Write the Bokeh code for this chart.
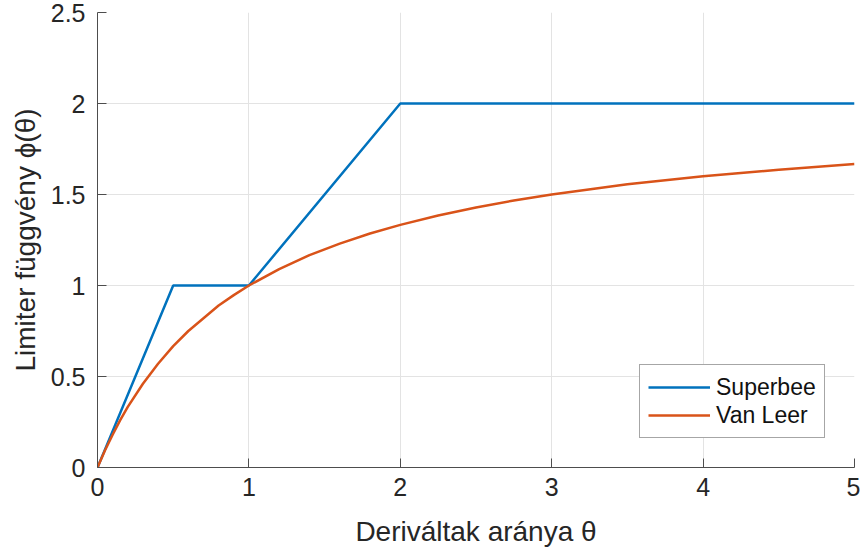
from bokeh.plotting import figure
from bokeh.models import Range1d, FixedTicker, Legend, LegendItem
from bokeh.embed import file_html
from bokeh.resources import INLINE

# Superbee limiter
superbee_theta = [0, 0.5, 1.0, 2.0, 5.0]
superbee_phi = [0, 1.0, 1.0, 2.0, 2.0]

# Van Leer limiter
vanleer_theta = [0, 0.05, 0.1, 0.15, 0.2, 0.3, 0.4, 0.5, 0.6, 0.7, 0.8, 0.9, 1.0, 1.2, 1.4, 1.6, 1.8,
                 2.0, 2.25, 2.5, 2.75, 3.0, 3.5, 4.0, 4.5, 5.0]
vanleer_phi = [0, 0.095, 0.18, 0.26, 0.333, 0.46, 0.57, 0.667, 0.75, 0.82, 0.89, 0.947, 1.0, 1.09, 1.167,
               1.23, 1.286, 1.333, 1.385, 1.429, 1.467, 1.5, 1.556, 1.6, 1.636, 1.667]

x_ticks = [0, 1, 2, 3, 4, 5]
y_ticks = [0, 0.5, 1, 1.5, 2, 2.5]
y_tick_labels = ["0", "0.5", "1", "1.5", "2", "2.5"]

FONT = "Liberation Sans"
TXT = "#262626"

p = figure(width=860, height=552, output_backend="svg", toolbar_location=None,
           x_range=Range1d(0, 5), y_range=Range1d(0, 2.5),
           min_border_left=97, min_border_right=6, min_border_top=12, min_border_bottom=85)
p.outline_line_color = None
p.background_fill_color = "white"

r1 = p.line(superbee_theta, superbee_phi, line_color="#0072BD", line_width=2.5)
r2 = p.line(vanleer_theta, vanleer_phi, line_color="#D95319", line_width=2.5)

for ax in (p.xaxis[0], p.yaxis[0]):
    ax.axis_line_color = "#4d4d4d"
    ax.major_tick_line_color = "#4d4d4d"
    ax.major_tick_in = 9
    ax.major_tick_out = 0
    ax.minor_tick_line_color = None
    ax.major_label_text_font = FONT
    ax.major_label_text_font_size = "25px"
    ax.major_label_text_color = TXT
    ax.axis_label_text_font = FONT
    ax.axis_label_text_font_size = "28px"
    ax.axis_label_text_font_style = "normal"
    ax.axis_label_text_color = TXT

p.xaxis[0].ticker = FixedTicker(ticks=x_ticks)
p.yaxis[0].ticker = FixedTicker(ticks=y_ticks)
p.yaxis[0].major_label_overrides = {t: l for t, l in zip(y_ticks, y_tick_labels)}
p.xaxis[0].major_label_standoff = 10
p.yaxis[0].major_label_standoff = 12
p.xaxis[0].axis_label = "Deriváltak aránya θ"
p.yaxis[0].axis_label = "Limiter függvény ϕ(θ)"
p.xaxis[0].axis_label_standoff = 17
p.yaxis[0].axis_label_standoff = 7

p.xgrid.ticker = FixedTicker(ticks=x_ticks)
p.ygrid.ticker = FixedTicker(ticks=y_ticks)
for g in (p.xgrid[0], p.ygrid[0]):
    g.grid_line_color = "#e3e3e3"
    g.grid_line_width = 1

legend = Legend(items=[LegendItem(label="Superbee", renderers=[r1]),
                       LegendItem(label="Van Leer", renderers=[r2])],
                location=(542, 29))
legend.label_text_font = FONT
legend.label_text_font_size = "23px"
legend.label_text_color = "#111111"
legend.glyph_width = 62
legend.glyph_height = 28
legend.label_height = 28
legend.label_standoff = 6
legend.spacing = 0
legend.padding = 8
legend.margin = 0
legend.border_line_color = "#4d4d4d"
legend.border_line_width = 1
legend.background_fill_color = "white"
legend.background_fill_alpha = 1
p.add_layout(legend)

open("out.html", "w").write(file_html(p, INLINE))
